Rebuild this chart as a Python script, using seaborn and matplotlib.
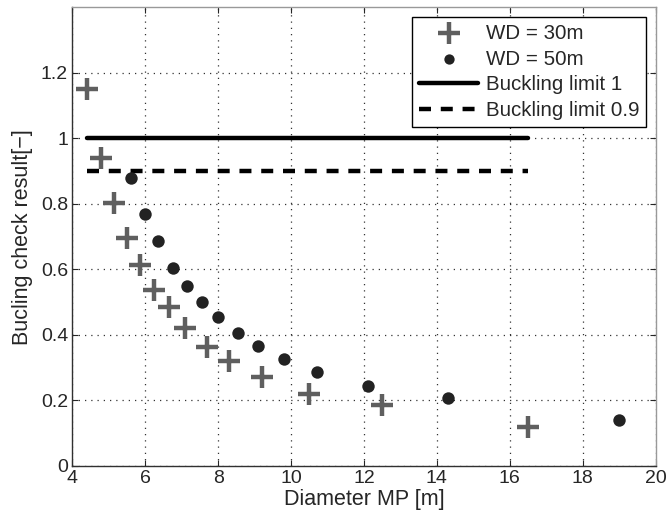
import numpy as np
import pandas as pd
import seaborn as sns
import matplotlib.pyplot as plt
from matplotlib.collections import PathCollection

# Data
wd30_diameter = [4.4, 4.8, 5.15, 5.5, 5.85, 6.25, 6.65, 7.1, 7.7, 8.3, 9.2, 10.5, 12.5, 16.5]
wd30_check = [1.152, 0.94, 0.803, 0.697, 0.614, 0.537, 0.484, 0.42, 0.364, 0.32, 0.272, 0.22, 0.185, 0.12]

wd50_diameter = [5.6, 6.0, 6.35, 6.75, 7.15, 7.55, 8.0, 8.55, 9.1, 9.8, 10.7, 12.1, 14.3, 19.0]
wd50_check = [0.88, 0.768, 0.688, 0.605, 0.55, 0.501, 0.455, 0.405, 0.366, 0.327, 0.2875, 0.245, 0.208, 0.14]

limit_values = [1.0, 0.9]
limit_labels = ["Buckling limit 1", "Buckling limit 0.9"]

x_ticks = [4, 6, 8, 10, 12, 14, 16, 18, 20]
y_ticks = [0, 0.2, 0.4, 0.6, 0.8, 1.0, 1.2]
y_tick_labels = ["0", "0.2", "0.4", "0.6", "0.8", "1", "1.2"]

df30 = pd.DataFrame({"d": wd30_diameter, "c": wd30_check})
df50 = pd.DataFrame({"d": wd50_diameter, "c": wd50_check})

sns.set_style("ticks")
plt.rcParams["font.family"] = ["Liberation Sans", "DejaVu Sans"]

fig = plt.figure(figsize=(6.69, 5.25), dpi=100)
ax = fig.add_axes([0.108, 0.1124, 0.872, 0.8737])

sns.scatterplot(data=df30, x="d", y="c", marker="+", s=250, linewidth=3.2,
                color="#5f5f5f", label="WD = 30m", ax=ax, zorder=3)
sns.scatterplot(data=df50, x="d", y="c", marker="o", s=80, linewidth=0,
                color="#222222", label="WD = 50m", ax=ax, zorder=3)

# limit lines span the WD = 30m diameter range
x_span = [min(wd30_diameter), max(wd30_diameter)]
styles = ["-", "--"]
for val, lab, ls in zip(limit_values, limit_labels, styles):
    lim_df = pd.DataFrame({"d": x_span, "c": [val, val]})
    sns.lineplot(data=lim_df, x="d", y="c", color="black", linewidth=3.2,
                 linestyle=ls, label=lab, ax=ax, zorder=2)
ax.lines[-1].set_dashes([2.7, 2.2])

ax.set_xlim(4, 20)
ax.set_ylim(0, 1.4)
ax.set_xticks(x_ticks)
ax.set_yticks(y_ticks)
ax.set_yticklabels(y_tick_labels)
ax.tick_params(direction="in", top=True, right=True, labelsize=14,
               length=4, width=0.8, colors="#262626", pad=3)
ax.grid(True, linestyle=(0, (1, 4)), color="#333333", linewidth=0.9)
for sp in ax.spines.values():
    sp.set_visible(True)
    sp.set_color("#303030")
    sp.set_linewidth(1.0)
ax.spines["top"].set_color("#999999")
ax.spines["right"].set_color("#999999")

ax.set_xlabel("Diameter MP [m]", fontsize=15.5, labelpad=1)
ax.set_ylabel("Bucling check result[\u2212]", fontsize=15.5, labelpad=6)

leg = ax.legend(loc="upper right", fontsize=14.8, frameon=True, fancybox=False,
                edgecolor="black", framealpha=1, handlelength=2.9,
                handletextpad=0.35, borderaxespad=0.45, labelspacing=0.33,
                borderpad=0.35)
leg.get_frame().set_linewidth(1.0)
handle_sizes = [250, 55]
for h, sz in zip([h for h in leg.legend_handles if isinstance(h, PathCollection)], handle_sizes):
    h.set_sizes([sz])

fig.savefig("out.png", dpi=100)
